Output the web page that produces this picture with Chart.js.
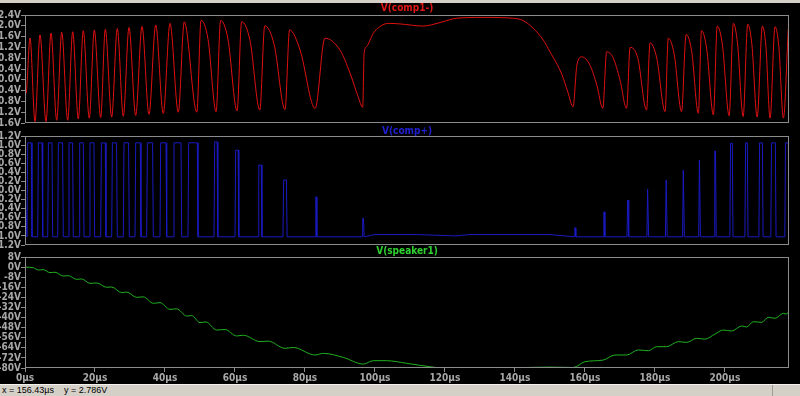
<!DOCTYPE html>
<html>
<head>
<meta charset="utf-8">
<script src="https://cdn.jsdelivr.net/npm/chart.js@4.4.0/dist/chart.umd.min.js"></script>
<style>
  html, body { margin: 0; padding: 0; background: #000; }
  body { width: 800px; height: 396px; position: relative; overflow: hidden; }
  .topbar { position: absolute; left: 0; top: 0; width: 800px; height: 3px; background: #d4d0c8; }
  canvas { position: absolute; left: 0; }
  #status { position: absolute; left: 0; top: 384px; width: 800px; height: 12px; background: #d4d0c8;
            border-top: 1px solid #f4f2ee; box-sizing: border-box; color: #000;
            font: 9px 'Liberation Sans', Arial, sans-serif; line-height: 11px; padding-left: 2px; white-space: pre; }
  #grip { position: absolute; right: 0; top: 0; width: 27px; height: 11px; border-left: 1px solid #a09c94; }
</style>
</head>
<body>
<div class="topbar"></div>
<canvas id="pane1" width="800" height="130" style="top:0px"></canvas>
<canvas id="pane2" width="800" height="130" style="top:122px"></canvas>
<canvas id="pane3" width="800" height="140" style="top:244px"></canvas>
<div id="status">x = 156.43µs    y = 2.786V<div id="grip"></div></div>

<script>
// time axis (µs)
const timeMax = 218.3;
const timeTicks = [0, 20, 40, 60, 80, 100, 120, 140, 160, 180, 200];

// V(comp1-) : [time µs, volts]
const comp1Ticks = [-1.6, -1.2, -0.8, -0.4, 0, 0.4, 0.8, 1.2, 1.6, 2.0, 2.4];
const comp1 = [
  [0, 0.05], [0.29, -0.5], [1.43, 1.55], [2.86, -1.55], [4.29, 1.66], [6.0, -1.55], [7.43, 1.73],
  [9.06, -1.5], [10.49, 1.76], [12.2, -1.5], [13.63, 1.78], [15.23, -1.45], [16.66, 1.82],
  [18.37, -1.42], [19.8, 1.84], [21.63, -1.4], [22.94, 1.87], [24.77, -1.38], [26.37, 1.9],
  [28.09, -1.35], [29.71, 1.94], [31.63, -1.32], [33.43, 1.98], [35.43, -1.28], [37.34, 2.03],
  [39.51, -1.25], [41.43, 2.09], [43.8, -1.2], [45.51, 2.15], [49.1, -1.2], [50.3, 2.2],
  [52.3, 1.5], [54.6, -1.18], [55.9, 2.2], [58.0, 1.5], [60.6, -1.15], [61.9, 2.15], [64.3, 1.45],
  [67.1, -1.12], [68.5, 2.0], [71.2, 1.3], [74.3, -1.1], [75.6, 1.85], [78.6, 1.1], [82.9, -1.06],
  [85.7, 1.54], [90.0, 1.1], [92.9, 0.24],
  [95.2, -0.63], [96.5, -1.02], [96.9, 0.98], [97.6, 1.23], [99.5, 1.72], [101.4, 1.97],
  [103.8, 2.09], [107.1, 2.07], [113.8, 1.99], [118.6, 2.12], [123.3, 2.28], [130.9, 2.31],
  [139.5, 2.28], [142.4, 2.19], [145.2, 1.91], [148.1, 1.47], [150.0, 1.04], [153.4, 0.2],
  [155.1, -0.45], [156.6, -1.0], [157.7, 0.55], [159.1, 0.85], [161.4, 0.55], [163.4, -0.2],
  [165.1, -1.06], [166.2, 1.04], [168.1, 0.8], [170.0, 0.0], [171.9, -1.06], [172.9, 1.2],
  [175.1, 0.8], [177.6, -1.12], [178.6, 1.37], [180.5, 0.81], [182.9, -1.18], [183.8, 1.54],
  [185.5, 0.94], [187.6, -1.18], [188.9, 1.68], [190.5, 1.04], [192.4, -1.24], [193.3, 1.82],
  [194.8, 1.13], [196.7, -1.3], [197.8, 1.99], [199.3, 1.26], [201.2, -1.33], [202.4, 2.09],
  [203.6, 1.33], [205.2, -1.36], [206.5, 2.06], [207.7, 1.3], [209.2, -1.38], [210.7, 1.99],
  [211.7, 1.24], [212.9, -1.42], [214.3, 1.97], [215.4, 1.22], [216.7, -1.42], [218.1, 1.9]
];

// V(comp+) : pulses [start µs, end µs, top volts], low level and floor points
const compPlusTicks = [-1.2, -1.0, -0.8, -0.6, -0.4, -0.2, 0, 0.2, 0.4, 0.6, 0.8, 1.0, 1.2];
const compPlusLow = -1.02;
const compPlusPulses = [
  [0.57, 2.0, 1.05], [3.63, 5.06, 1.05], [6.49, 7.91, 1.05], [9.34, 10.94, 1.05],
  [12.37, 13.8, 1.05], [15.43, 16.86, 1.05], [18.37, 19.91, 1.05], [21.63, 23.14, 1.05],
  [24.77, 26.37, 1.05], [28.09, 29.8, 1.05], [31.43, 33.14, 1.05], [34.77, 36.66, 1.05],
  [38.57, 40.49, 1.05], [42.37, 44.77, 1.05], [46.57, 49.43, 1.05], [54.0, 55.1, 1.07],
  [60.0, 61.1, 0.89], [66.6, 67.7, 0.56], [73.7, 74.9, 0.23], [82.9, 83.4, -0.14],
  [96.3, 96.9, -0.61], [156.9, 157.4, -0.82], [165.2, 165.7, -0.47], [172.0, 172.5, -0.21],
  [177.7, 178.2, 0.03], [183.0, 183.5, 0.23], [187.9, 188.4, 0.45], [192.5, 193.0, 0.67],
  [196.9, 197.5, 0.87], [201.4, 202.3, 1.04], [205.7, 206.6, 1.05], [209.7, 210.9, 1.05],
  [213.1, 214.6, 1.05], [217.1, 218.3, 1.05]
];
const compPlusFloor = [[0, 0.1], [100, -0.97], [112, -0.97], [123, -1.0], [127, -0.97], [150, -0.97]];

// V(speaker1) : [time µs, volts]
const speakerTicks = [-80, -72, -64, -56, -48, -40, -32, -24, -16, -8, 0, 8];
const speaker = [
  [0, 0], [2.37, -0.5], [3.8, -2.3], [5.23, -2.0], [7.14, -4.4], [8.57, -4.1], [10.94, -7.1],
  [12.37, -6.8], [14.77, -9.7], [16.2, -9.4], [18.57, -12.9], [20.49, -12.6], [23.34, -16],
  [24.77, -15.8], [27.63, -20.3], [29.06, -19.8], [31.91, -24], [33.8, -23.6], [36.66, -28.7],
  [38.57, -28.2], [41.43, -33.5], [43.34, -33.1], [46.2, -38.8], [47.63, -38.5], [50, -44],
  [51.7, -43.5], [54.77, -49.9], [57.14, -49.5], [60.49, -54.6], [62.37, -54], [67.14, -59.1],
  [69.51, -58.7], [74.29, -64.4], [76.66, -63.7], [82.86, -69.7], [85.23, -68.4], [90.94, -71.6],
  [96.66, -76.9], [99.51, -74.2], [103.34, -74.2], [109.06, -76.3], [115.71, -79], [119.51, -80],
  [135.71, -80], [145.14, -79.5], [150, -79.3], [156.66, -79.6], [160, -75], [165.23, -73.7],
  [168.57, -69.7], [171.91, -69.7], [175.23, -65.7], [178.09, -66.3], [180.49, -63.1],
  [183.34, -63.1], [186.66, -59.1], [189.06, -59.7], [191.91, -56.5], [194.29, -57.1],
  [197.14, -53.1], [199.51, -49.9], [201.91, -50.7], [204.77, -46.7], [206.2, -47.5],
  [208.09, -43.3], [210.49, -43.8], [212.37, -39.8], [214.29, -40.6], [216.66, -36.7],
  [217.63, -37.2], [218.37, -34.6]
];

const frameColor = '#8c8c8c';
const labelColor = '#a8a8a8';
const labelFont = { family: "'Liberation Sans Narrow', 'DejaVu Sans Condensed', Arial, sans-serif", size: 10, weight: 'bold' };

function pulsePoints() {
  const pts = compPlusFloor.filter(p => p[0] > 50 && p[0] < 155).map(p => ({ x: p[0], y: p[1] }));
  pts.push({ x: 0, y: 0.1 });
  compPlusPulses.forEach(p => {
    pts.push({ x: p[0], y: compPlusLow });
    pts.push({ x: p[0] + 0.2, y: p[2] });
    pts.push({ x: p[1] - 0.2, y: p[2] });
    pts.push({ x: p[1], y: compPlusLow });
  });
  return pts.sort((a, b) => a.x - b.x);
}

// pane title and frame
const paneDecor = {
  id: 'paneDecor',
  afterDatasetsDraw(chart, args, opts) {
    const a = chart.chartArea;
    const ctx = chart.ctx;
    ctx.save();
    ctx.strokeStyle = frameColor;
    ctx.lineWidth = 1;
    ctx.strokeRect(Math.round(a.left) + 0.5, Math.round(a.top) + 0.5,
                   Math.round(a.right - a.left) - 1, Math.round(a.bottom - a.top) - 1);
    ctx.fillStyle = opts.color;
    ctx.font = "bold 10px 'Liberation Sans Narrow', 'DejaVu Sans Condensed', Arial, sans-serif";
    ctx.textAlign = 'center';
    ctx.textBaseline = 'middle';
    ctx.fillText(opts.text, (a.left + a.right) / 2, a.top - opts.gap);
    ctx.restore();
  }
};

function makePane(id, points, color, ticks, fmt, pad, title, showX, smooth) {
  return new Chart(document.getElementById(id), {
    type: 'line',
    data: {
      datasets: [{
        data: points,
        borderColor: color,
        borderWidth: 1,
        pointRadius: 0,
        cubicInterpolationMode: smooth ? 'monotone' : 'default',
        tension: 0
      }]
    },
    options: {
      responsive: false,
      animation: false,
      events: [],
      layout: { autoPadding: false, padding: pad },
      plugins: {
        legend: { display: false },
        tooltip: { enabled: false },
        paneDecor: title
      },
      scales: {
        x: {
          type: 'linear',
          min: 0,
          max: timeMax,
          display: showX,
          afterFit: s => { if (showX) s.height = 16; },
          afterBuildTicks: s => { s.ticks = timeTicks.map(v => ({ value: v })); },
          grid: { drawOnChartArea: false, tickLength: 4, color: frameColor },
          border: { display: false },
          ticks: { color: labelColor, font: labelFont, padding: 0, maxRotation: 0, autoSkip: false,
                   callback: v => v + 'µs' }
        },
        y: {
          min: ticks[0],
          max: ticks[ticks.length - 1],
          afterFit: s => { s.width = 25; },
          afterBuildTicks: s => { s.ticks = ticks.map(v => ({ value: v })); },
          grid: { drawOnChartArea: false, tickLength: 4, color: frameColor },
          border: { display: false },
          ticks: { color: labelColor, font: labelFont, padding: 0, autoSkip: false, callback: fmt }
        }
      }
    },
    plugins: [paneDecor]
  });
}

const xy = arr => arr.map(p => ({ x: p[0], y: p[1] }));

makePane('pane1', xy(comp1), '#e01010', comp1Ticks, v => v.toFixed(1) + 'V',
  { top: 15, bottom: 7, left: 0, right: 11 }, { text: 'V(comp1-)', color: '#e01818', gap: 7 }, false, true);
makePane('pane2', pulsePoints(), '#1a1ac0', compPlusTicks, v => v.toFixed(1) + 'V',
  { top: 14, bottom: 7, left: 0, right: 11 }, { text: 'V(comp+)', color: '#2020d0', gap: 5 }, false, false);
makePane('pane3', xy(speaker), '#20b020', speakerTicks, v => v + 'V',
  { top: 13, bottom: 0, left: 0, right: 11 }, { text: 'V(speaker1)', color: '#30d030', gap: 6 }, true, true);
</script>
</body>
</html>
